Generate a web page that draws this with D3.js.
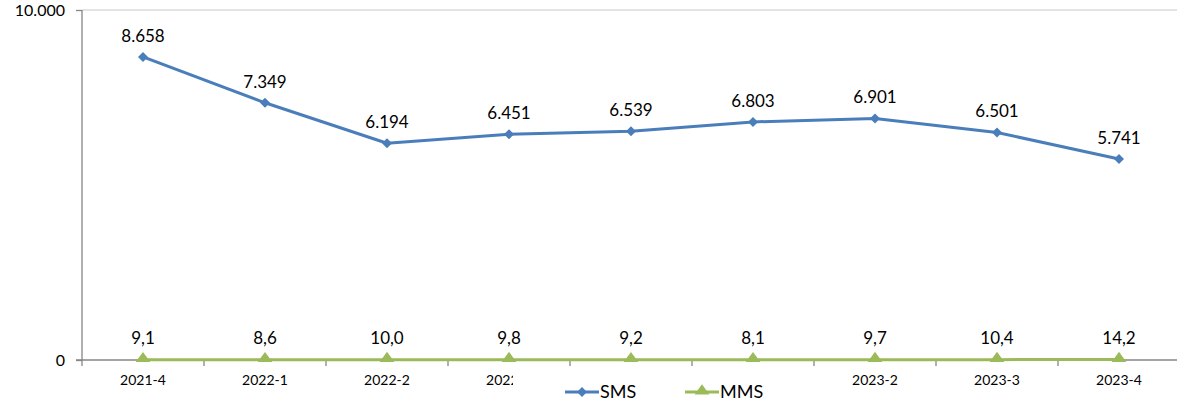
<!DOCTYPE html>
<html>
<head>
<meta charset="utf-8">
<script src="https://cdn.jsdelivr.net/npm/d3@7"></script>
<style>
  html, body { margin: 0; padding: 0; background: #fff; }
  svg { display: block; }
  text { font-family: Lato, "Open Sans", sans-serif; fill: #000; }
</style>
</head>
<body>
<svg id="chart" width="1177" height="404"></svg>
<script>
const categories = ["2021-4", "2022-1", "2022-2", "2022-3", "2022-4", "2023-1", "2023-2", "2023-3", "2023-4"];
const smsValues = [8658, 7349, 6194, 6451, 6539, 6803, 6901, 6501, 5741];
const mmsValues = [9.1, 8.6, 10.0, 9.8, 9.2, 8.1, 9.7, 10.4, 14.2];
const yTicks = [0, 10000];
const seriesNames = ["SMS", "MMS"];

(function () {
const W = 1177, H = 404;
const mLeft = 82, plotRight = 1180, mTop = 10, mBottom = 360;
const blue = "#4a7ebb", green = "#9bbb59", axisGray = "#868686";
const legendBox = {x: 513, y: 371, w: 290, h: 33};

const loc = d3.formatLocale({decimal: ",", thousands: ".", grouping: [3], currency: ["", ""]});
const fmtInt = loc.format(",.0f");
const fmtDec = loc.format(".1f");

const svg = d3.select("#chart");
const x = d3.scaleBand().domain(categories).range([mLeft, plotRight]).paddingInner(0).paddingOuter(0);
const cx = d => x(d) + x.bandwidth() / 2;
const y = d3.scaleLinear().domain([0, 10000]).range([mBottom, mTop]);

const defs = svg.append("defs");

// top gridline
svg.append("line").attr("x1", mLeft).attr("x2", W).attr("y1", y(10000)).attr("y2", y(10000))
  .attr("stroke", "#e3e3e3").attr("stroke-width", 2);

// y axis
const yAxis = svg.append("g").attr("transform", `translate(${mLeft},0)`)
  .call(d3.axisLeft(y).tickValues(yTicks).tickSize(6).tickPadding(11).tickFormat(fmtInt));
yAxis.select(".domain").attr("stroke", axisGray).attr("stroke-width", 1.3).attr("d", `M0,${mTop}V${mBottom}`);
yAxis.selectAll(".tick line").attr("stroke", axisGray).attr("stroke-width", 1.3);
yAxis.selectAll(".tick text").style("font-size", "16px").attr("font-family", "Lato").attr("fill", "#000");

// x axis: labels completely covered by the legend are not visible in the reference
const covered = c => {
  const m = cx(c);
  return m - 26 >= legendBox.x && m + 26 <= legendBox.x + legendBox.w;
};
const xAxis = svg.append("g").attr("transform", `translate(0,${mBottom})`)
  .call(d3.axisBottom(x).tickSize(0).tickPadding(10).tickFormat(c => covered(c) ? "" : c));
xAxis.select(".domain").attr("stroke", axisGray).attr("stroke-width", 1.3).attr("d", `M${mLeft - 6},0H${W}`);
xAxis.selectAll(".tick text").style("font-size", "14px").attr("font-family", "Lato").attr("fill", "#000")
  .attr("dy", "1.05em");
// per-tick clip hiding the part of a label lying under the legend box
categories.forEach((c, i) => {
  const tx = cx(c);
  defs.append("clipPath").attr("id", "underLegendT" + i).append("path")
    .attr("clip-rule", "evenodd")
    .attr("d", `M${-tx},${-mBottom}H${W - tx}V${H - mBottom}H${-tx}Z M${legendBox.x - tx},${legendBox.y - mBottom}h${legendBox.w}v${legendBox.h}h${-legendBox.w}Z`);
});
xAxis.selectAll(".tick").attr("clip-path", c => "url(#underLegendT" + categories.indexOf(c) + ")");

// boundary tick marks
const bounds = categories.map(c => x(c));
svg.append("g").selectAll("line").data(bounds).join("line")
  .attr("x1", d => d).attr("x2", d => d).attr("y1", mBottom).attr("y2", mBottom + 6)
  .attr("stroke", axisGray).attr("stroke-width", 1.3);

// lines
const lineGen = d3.line().x((d, i) => cx(categories[i])).y(d => y(d));
svg.append("path").datum(smsValues).attr("d", lineGen).attr("fill", "none")
  .attr("stroke", blue).attr("stroke-width", 3).attr("stroke-linejoin", "round");
svg.append("path").datum(mmsValues).attr("d", lineGen).attr("fill", "none")
  .attr("stroke", green).attr("stroke-width", 3).attr("stroke-linejoin", "round");

// markers
const diamond = d3.symbol().type(d3.symbolSquare).size(50);
const tri = d3.symbol().type(d3.symbolTriangle).size(60);
svg.append("g").selectAll("path").data(smsValues).join("path")
  .attr("d", diamond).attr("fill", blue)
  .attr("transform", (d, i) => `translate(${cx(categories[i])},${y(d)}) rotate(45)`);
svg.append("g").selectAll("path").data(mmsValues).join("path")
  .attr("d", tri).attr("fill", green)
  .attr("transform", (d, i) => `translate(${cx(categories[i])},${y(d) - 1}) scale(1.25,1)`);

// data labels
svg.append("g").selectAll("text").data(smsValues).join("text")
  .attr("x", (d, i) => cx(categories[i])).attr("y", d => y(d) - 15)
  .attr("text-anchor", "middle").style("font-size", "17px").text(d => fmtInt(d));
svg.append("g").selectAll("text").data(mmsValues).join("text")
  .attr("x", (d, i) => cx(categories[i])).attr("y", d => y(d) - 16)
  .attr("text-anchor", "middle").style("font-size", "17px").text(d => fmtDec(d));

// legend
const lg = svg.append("g");
const legendItems = [
  {name: seriesNames[0], color: blue, sym: "d", x0: 565},
  {name: seriesNames[1], color: green, sym: "t", x0: 685}
];
const ly = 392;
legendItems.forEach(it => {
  lg.append("line").attr("x1", it.x0).attr("x2", it.x0 + 34).attr("y1", ly).attr("y2", ly)
    .attr("stroke", it.color).attr("stroke-width", 3);
  lg.append("path").attr("d", it.sym === "d" ? diamond : tri).attr("fill", it.color)
    .attr("transform", it.sym === "d" ? `translate(${it.x0 + 17},${ly}) rotate(45)` : `translate(${it.x0 + 17},${ly - 1}) scale(1.25,1)`);
  lg.append("text").attr("x", it.x0 + 35).attr("y", ly + 6).style("font-size", "18px").text(it.name);
});
})();
</script>
</body>
</html>
